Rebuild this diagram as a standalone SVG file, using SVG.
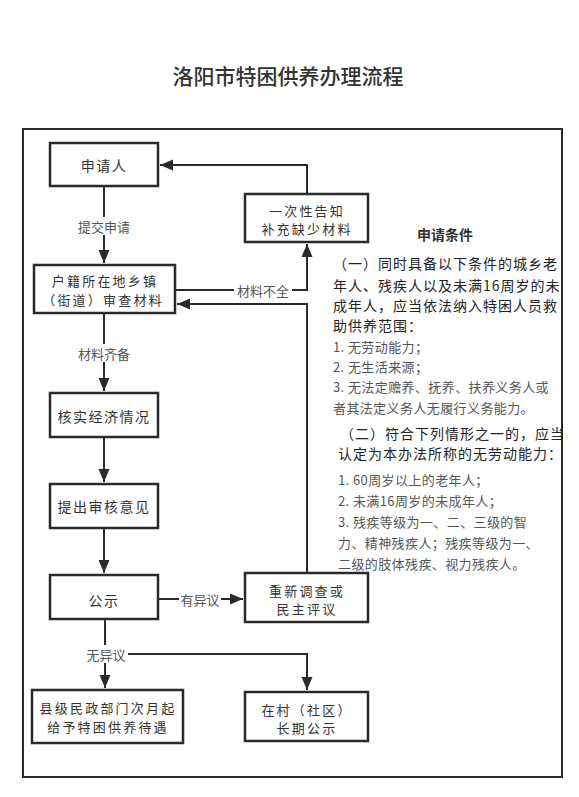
<svg xmlns="http://www.w3.org/2000/svg" width="579" height="797" viewBox="0 0 579 797">
<style>
text{font-family:"Noto Sans CJK SC","Noto Sans",sans-serif;fill:#333;}
.box{fill:#fff;stroke:#2a2a2a;stroke-width:2.5;}
.nt{font-size:14px;letter-spacing:1.5px;text-anchor:middle;dominant-baseline:central;}
.n2{font-size:13px;letter-spacing:2.2px;text-anchor:middle;dominant-baseline:central;}
.ln{fill:none;stroke:#2a2a2a;stroke-width:2;}
.lb{font-size:13px;fill:#555;text-anchor:middle;dominant-baseline:central;}
.lbg{fill:#fff;}
.p1{font-size:14px;letter-spacing:1px;fill:#222;}
.p2{font-size:13px;letter-spacing:0.4px;fill:#555;}
</style>
<defs>
<marker id="ah" markerUnits="userSpaceOnUse" markerWidth="14" markerHeight="12" refX="13" refY="6" orient="auto">
<path d="M0,0.5 L13,6 L0,11.5 z" fill="#2a2a2a"/>
</marker>
</defs>
<rect width="579" height="797" fill="#fff"/>
<text x="288" y="75" font-size="21" font-weight="500" text-anchor="middle" dominant-baseline="central" fill="#333">洛阳市特困供养办理流程</text>
<rect x="23" y="129" width="539" height="648" fill="none" stroke="#2a2a2a" stroke-width="2"/>

<g id="connectors">
<path class="ln" d="M104,186 V263" marker-end="url(#ah)"/>
<path class="ln" d="M175,290 H307 V244" marker-end="url(#ah)"/>
<path class="ln" d="M307,194 V165 H160" marker-end="url(#ah)"/>
<path class="ln" d="M104,313 V391" marker-end="url(#ah)"/>
<path class="ln" d="M104,437 V482" marker-end="url(#ah)"/>
<path class="ln" d="M104,528 V573" marker-end="url(#ah)"/>
<path class="ln" d="M158,599 H243" marker-end="url(#ah)"/>
<path class="ln" d="M307,573 V304 H177" marker-end="url(#ah)"/>
<path class="ln" d="M105,619 V688" marker-end="url(#ah)"/>
<path class="ln" d="M105,654 H307 V690" marker-end="url(#ah)"/>
<rect class="lbg" x="75" y="217" width="58" height="18"/>
<text class="lb" x="104" y="226">提交申请</text>
<rect class="lbg" x="234" y="281" width="58" height="18"/>
<text class="lb" x="263" y="290">材料不全</text>
<rect class="lbg" x="75" y="344" width="58" height="18"/>
<text class="lb" x="104" y="353">材料齐备</text>
<rect class="lbg" x="179" y="590" width="42" height="18"/>
<text class="lb" x="200" y="599">有异议</text>
<rect class="lbg" x="84" y="645" width="44" height="18"/>
<text class="lb" x="106" y="654">无异议</text>
</g>

<g id="n-applicant">
<rect class="box" x="50" y="143" width="108" height="43"/>
<text class="nt" x="104" y="165">申请人</text>
</g>
<g id="n-review">
<rect class="box" x="34" y="265" width="141" height="48"/>
<text class="n2" x="105" y="280">户籍所在地乡镇</text>
<text class="n2" x="103" y="299">（街道）审查材料</text>
</g>
<g id="n-notify">
<rect class="box" x="245" y="194" width="123" height="48"/>
<text class="n2" x="307" y="210">一次性告知</text>
<text class="n2" x="307" y="228">补充缺少材料</text>
</g>
<g id="n-verify">
<rect class="box" x="50" y="393" width="108" height="44"/>
<text class="nt" x="104" y="416">核实经济情况</text>
</g>
<g id="n-opinion">
<rect class="box" x="50" y="484" width="108" height="44"/>
<text class="nt" x="104" y="506">提出审核意见</text>
</g>
<g id="n-publicity">
<rect class="box" x="50" y="575" width="108" height="44"/>
<text class="nt" x="104" y="600">公示</text>
</g>
<g id="n-reinvestigate">
<rect class="box" x="245" y="573" width="123" height="49"/>
<text class="n2" x="307" y="590">重新调查或</text>
<text class="n2" x="307" y="608">民主评议</text>
</g>
<g id="n-county">
<rect class="box" x="32" y="690" width="151" height="53"/>
<text class="n2" x="108" y="707">县级民政部门次月起</text>
<text class="n2" x="108" y="726">给予特困供养待遇</text>
</g>
<g id="n-village">
<rect class="box" x="245" y="692" width="123" height="49"/>
<text class="n2" x="307" y="709">在村（社区）</text>
<text class="n2" x="307" y="727">长期公示</text>
</g>

<g id="conditions">
<text x="445" y="234" font-size="14" font-weight="700" text-anchor="middle" dominant-baseline="central" fill="#333">申请条件</text>
<text class="p1" x="333" y="263" dominant-baseline="central">（一）同时具备以下条件的城乡老</text>
<text class="p1" x="333" y="285" dominant-baseline="central">年人、残疾人以及未满16周岁的未</text>
<text class="p1" x="333" y="305" dominant-baseline="central">成年人，应当依法纳入特困人员救</text>
<text class="p1" x="333" y="325" dominant-baseline="central">助供养范围：</text>
<text class="p2" x="333" y="346" dominant-baseline="central">1. 无劳动能力；</text>
<text class="p2" x="333" y="366" dominant-baseline="central">2. 无生活来源；</text>
<text class="p2" x="333" y="386" dominant-baseline="central">3. 无法定赡养、抚养、扶养义务人或</text>
<text class="p2" x="333" y="407" dominant-baseline="central">者其法定义务人无履行义务能力。</text>
<text class="p1" x="340" y="433" dominant-baseline="central">（二）符合下列情形之一的，应当</text>
<text class="p1" x="338" y="453" dominant-baseline="central">认定为本办法所称的无劳动能力：</text>
<text class="p2" x="338" y="479" dominant-baseline="central">1. 60周岁以上的老年人；</text>
<text class="p2" x="338" y="500" dominant-baseline="central">2. 未满16周岁的未成年人；</text>
<text class="p2" x="338" y="521" dominant-baseline="central">3. 残疾等级为一、二、三级的智</text>
<text class="p2" x="338" y="542" dominant-baseline="central">力、精神残疾人；残疾等级为一、</text>
<text class="p2" x="338" y="563" dominant-baseline="central">二级的肢体残疾、视力残疾人。</text>
</g>
</svg>
